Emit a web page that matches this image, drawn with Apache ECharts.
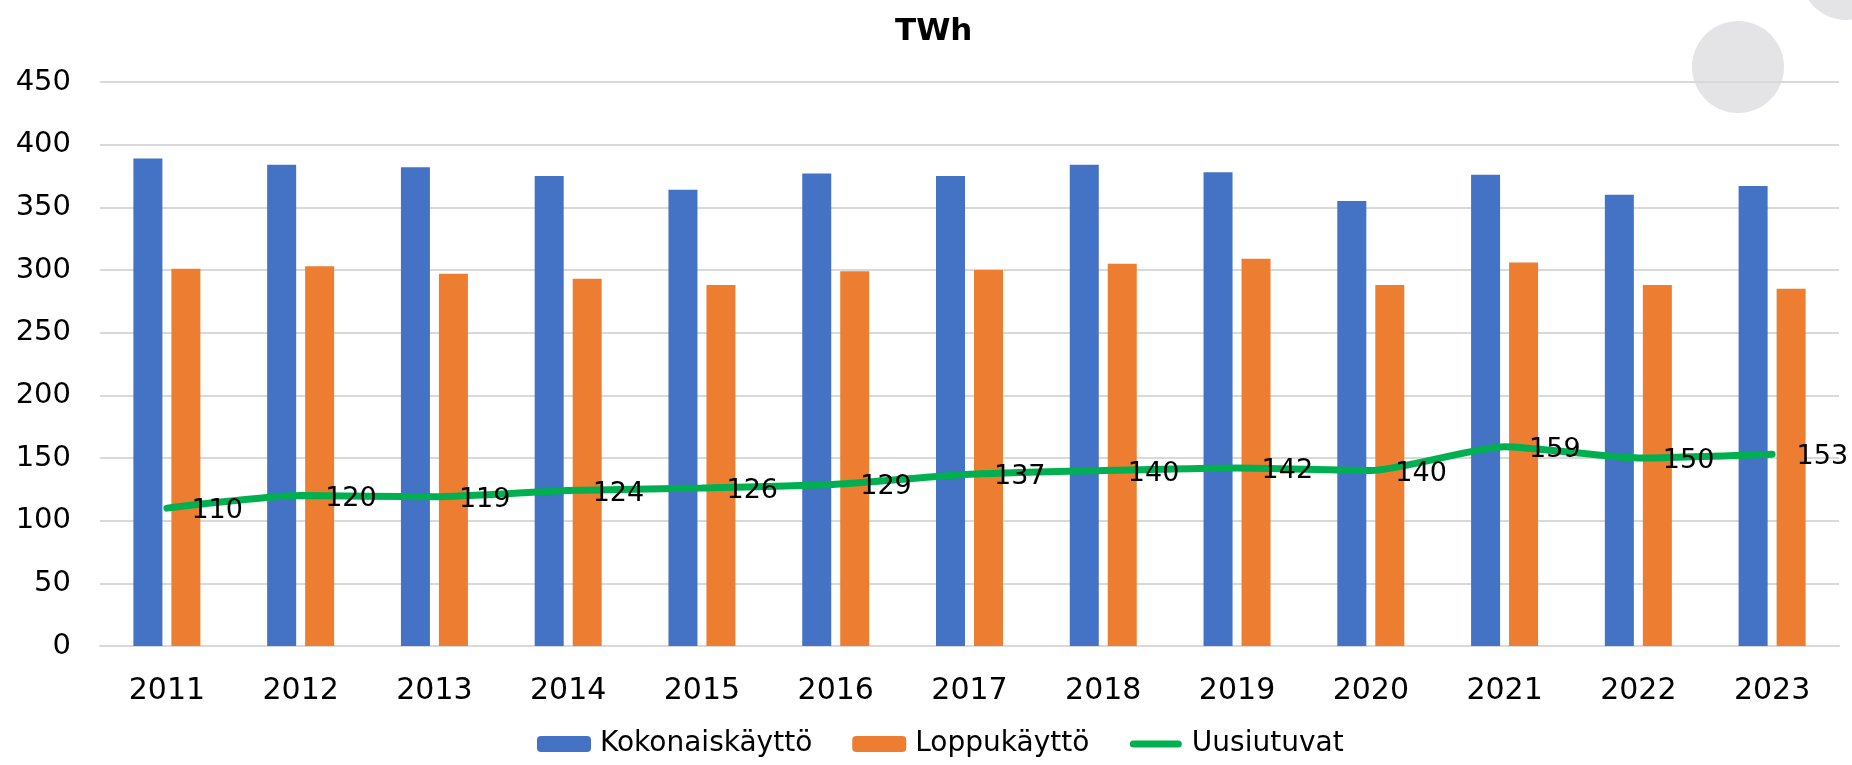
<!DOCTYPE html>
<html>
<head>
<meta charset="utf-8">
<script src="https://cdn.jsdelivr.net/npm/echarts@6/dist/echarts.min.js"></script>
<style>
  html, body { margin: 0; padding: 0; background: #fff; }
  #chart { width: 1852px; height: 765px; }
</style>
</head>
<body>
<div id="chart"></div>
<script>
var years = ['2011', '2012', '2013', '2014', '2015', '2016', '2017', '2018', '2019', '2020', '2021', '2022', '2023'];
var kokonais = [389, 384, 382, 375, 364, 377, 375, 384, 378, 355, 376, 360, 367];
var loppu = [301, 303, 297, 293, 288, 299, 300, 305, 309, 288, 306, 288, 285];
var uusiutuvat = [110, 120, 119, 124, 126, 129, 137, 140, 142, 140, 159, 150, 153];

var font = 'DejaVu Sans, sans-serif';
// rounded thick line for the legend, padded to fill a 53x16 box
var lineIcon = 'path://M0,0 M53,16 M4,4.5 L49,4.5 A3.5,3.5 0 0 1 49,11.5 L4,11.5 A3.5,3.5 0 0 1 4,4.5 Z';

var myChart = echarts.init(document.getElementById('chart'));
var option = {
    backgroundColor: '#fff',
    animation: false,
    title: {
        text: 'TWh',
        left: 890,
        top: 11,
        textStyle: { fontSize: 31, fontWeight: 'bold', color: '#000', fontFamily: font }
    },
    graphic: [
        { type: 'circle', shape: { cx: 1738, cy: 67, r: 46 }, style: { fill: '#e4e4e6' }, z: -10 },
        { type: 'circle', shape: { cx: 1846, cy: -25, r: 45 }, style: { fill: '#e4e4e6' }, z: -10 }
    ],
    legend: {
        bottom: 2,
        left: 532,
        itemWidth: 54,
        itemHeight: 16,
        itemGap: 40,
        data: [
            'Kokonaiskäyttö',
            'Loppukäyttö',
            { name: 'Uusiutuvat', icon: lineIcon, itemStyle: { color: '#00b050' } }
        ],
        textStyle: { fontSize: 28, color: '#000', fontFamily: font, padding: [0, 0, 0, 4] }
    },
    grid: { left: 100, right: 13, top: 82, bottom: 119 },
    xAxis: {
        type: 'category',
        data: years,
        axisTick: { show: false },
        axisLine: { lineStyle: { color: '#d9d9d9', width: 2 } },
        axisLabel: { fontSize: 30, color: '#000', margin: 30, fontFamily: font }
    },
    yAxis: {
        type: 'value',
        min: 0,
        max: 450,
        interval: 50,
        axisLabel: { fontSize: 29, color: '#000', margin: 29, fontFamily: font },
        splitLine: { lineStyle: { color: '#d9d9d9', width: 2 } }
    },
    series: [
        {
            name: 'Kokonaiskäyttö',
            type: 'bar',
            data: kokonais,
            barWidth: 29,
            barGap: '31%',
            itemStyle: { color: '#4472c4' }
        },
        {
            name: 'Loppukäyttö',
            type: 'bar',
            data: loppu,
            barWidth: 29,
            itemStyle: { color: '#ed7d31' }
        },
        {
            name: 'Uusiutuvat',
            type: 'line',
            data: uusiutuvat,
            smooth: 0.2,
            symbol: 'circle',
            symbolSize: 1,
            showSymbol: true,
            lineStyle: { color: '#00b050', width: 7, cap: 'round' },
            itemStyle: { color: '#00b050' },
            z: 5,
            label: {
                show: true,
                position: 'right',
                distance: 24,
                offset: [0, 3],
                fontSize: 27,
                color: '#000',
                fontFamily: font
            }
        }
    ]
};
myChart.setOption(option);
</script>
</body>
</html>
